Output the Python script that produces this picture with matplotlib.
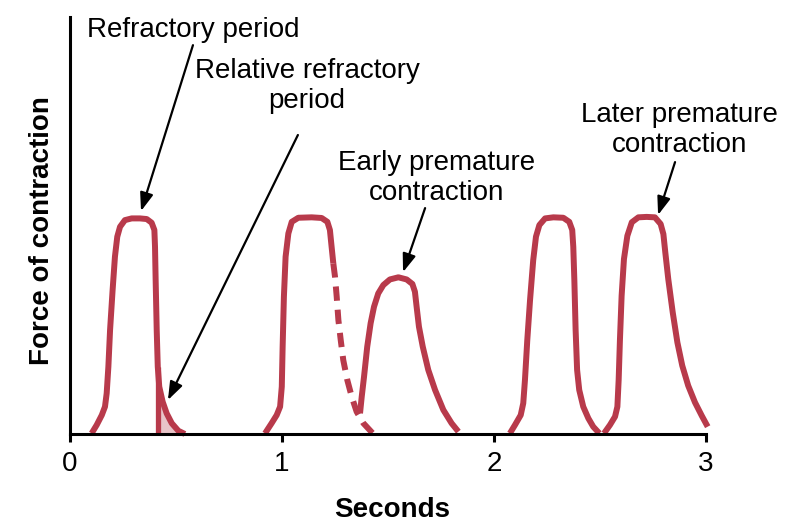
import matplotlib
matplotlib.use('Agg')
import matplotlib.pyplot as plt
import numpy as np

plt.rcParams['font.family'] = ['Liberation Sans', 'DejaVu Sans']

# ---- data (time in seconds, force in arbitrary units, normal peak ~100) ----
beat1_t = [0.102, 0.126, 0.150, 0.165, 0.173, 0.181, 0.189, 0.201, 0.212, 0.223, 0.236, 0.259, 0.291,
           0.330, 0.362, 0.385, 0.398, 0.401, 0.404, 0.409, 0.414, 0.421, 0.437, 0.456, 0.480, 0.511, 0.542]
beat1_f = [0.3, 4.2, 8.8, 12.7, 18.9, 31.3, 48.4, 67.0, 82.5, 91.8, 96.4, 99.5, 100.3,
           100.3, 100.0, 98.3, 94.9, 87.1, 71.6, 48.4, 31.3, 22.0, 15.0, 9.6, 5.0, 1.5, 0.0]

beat2_t = [0.920, 0.951, 0.975, 0.991, 0.999, 1.003, 1.009, 1.017, 1.030, 1.046, 1.077, 1.140,
           1.187, 1.214, 1.226, 1.234, 1.242]
beat2_f = [0.3, 5.0, 8.8, 12.7, 22.0, 40.6, 63.9, 82.5, 93.3, 98.7, 100.6, 100.8,
           100.5, 98.7, 94.9, 87.1, 79.4]

beat2_relax_t = [1.242, 1.250, 1.258, 1.266, 1.277, 1.289, 1.308, 1.329, 1.352, 1.384, 1.431]
beat2_relax_f = [79.4, 73.2, 63.9, 53.0, 43.7, 34.4, 25.1, 17.3, 10.4, 5.0, 0.0]

early_t = [1.368, 1.376, 1.387, 1.402, 1.418, 1.434, 1.454, 1.478, 1.509, 1.549, 1.588, 1.615,
           1.627, 1.635, 1.646, 1.664, 1.690, 1.722, 1.761, 1.800, 1.832]
early_f = [9.6, 17.3, 26.7, 40.6, 51.5, 59.2, 65.4, 69.3, 71.9, 72.9, 71.9, 69.8,
           66.2, 59.2, 49.9, 40.6, 29.8, 20.5, 11.2, 5.0, 1.1]

beat3_t = [2.075, 2.099, 2.126, 2.138, 2.146, 2.157, 2.170, 2.185, 2.198, 2.214, 2.241, 2.280,
           2.327, 2.355, 2.369, 2.374, 2.379, 2.385, 2.392, 2.402, 2.421, 2.445, 2.468, 2.497]
beat3_f = [0.3, 4.2, 8.8, 14.3, 25.1, 43.7, 62.3, 80.9, 91.8, 97.2, 100.3, 100.8,
           100.6, 98.7, 94.9, 87.1, 71.6, 48.4, 29.8, 20.5, 12.7, 7.3, 3.4, 0.3]

later_t = [2.519, 2.547, 2.571, 2.582, 2.588, 2.594, 2.602, 2.613, 2.629, 2.650, 2.681, 2.720,
           2.759, 2.786, 2.799, 2.808, 2.822, 2.843, 2.865, 2.888, 2.916, 2.948, 2.980, 3.008]
later_f = [0.3, 4.2, 8.1, 12.7, 25.1, 43.7, 64.3, 81.4, 92.2, 98.5, 100.8, 101.0,
           100.8, 97.7, 93.0, 84.5, 72.1, 56.6, 42.6, 31.8, 22.5, 14.7, 8.5, 3.4]

relative_refractory_start = 0.414

xticks = [0, 1, 2, 3]
xtick_labels = ['0', '1', '2', '3']

# ---- figure ----
RED = '#b83a4b'
PINK = '#e8c5c9'

fig = plt.figure(figsize=(8, 5.3), dpi=100)
ax = fig.add_axes([70 / 800, 96 / 530, 636 / 800, 417 / 530])
ax.set_xlim(0, 3)
ax.set_ylim(0, 194)

lw = 4.3
line_kw = dict(color=RED, lw=lw, solid_joinstyle='round', solid_capstyle='butt',
               clip_on=False, zorder=3)

# shaded relative refractory area
t1 = np.array(beat1_t)
f1 = np.array(beat1_f)
mask = t1 >= relative_refractory_start
ax.fill_between(t1[mask], 0, f1[mask], color=PINK, lw=0, zorder=2)
ax.vlines(relative_refractory_start, 0, f1[mask][0], color=RED, lw=3.8, zorder=3)

ax.plot(beat1_t, beat1_f, **line_kw)
ax.plot(beat2_t, beat2_f, **line_kw)
ax.plot(beat2_relax_t, beat2_relax_f, color=RED, lw=lw, dashes=[2.4, 1.5],
        dash_capstyle='butt', clip_on=False, zorder=3)
ax.plot(early_t, early_f, **line_kw)
ax.plot(beat3_t, beat3_f, **line_kw)
ax.plot(later_t, later_f, **line_kw)

# ---- annotations ----
fs = 20
arrow_kw = dict(arrowstyle='-|>,head_length=0.55,head_width=0.2', color='black',
                lw=1.6, mutation_scale=20, shrinkA=0, shrinkB=0)

ax.text(0.580, 187.9, 'Refractory period', ha='center', va='center', fontsize=fs)
ax.annotate('', xy=(0.335, 103.7), xytext=(0.580, 180.9), arrowprops=arrow_kw)

ax.text(1.118, 161.9, 'Relative refractory\nperiod', ha='center', va='center',
        fontsize=fs, linespacing=1.2)
ax.annotate('', xy=(0.462, 15.8), xytext=(1.075, 139.1), arrowprops=arrow_kw)

ax.text(1.731, 119.1, 'Early premature\ncontraction', ha='center', va='center',
        fontsize=fs, linespacing=1.2)
ax.annotate('', xy=(1.571, 75.3), xytext=(1.675, 105.1), arrowprops=arrow_kw)

ax.text(2.877, 141.4, 'Later premature\ncontraction', ha='center', va='center',
        fontsize=fs, linespacing=1.2)
ax.annotate('', xy=(2.774, 101.9), xytext=(2.854, 126.5), arrowprops=arrow_kw)

# ---- axes styling ----
for s in ['top', 'right']:
    ax.spines[s].set_visible(False)
for s in ['left', 'bottom']:
    ax.spines[s].set_linewidth(2.2)
    ax.spines[s].set_color('black')
ax.spines['left'].set_zorder(4)
ax.spines['bottom'].set_zorder(4)

ax.set_xticks(xticks)
ax.set_xticklabels(xtick_labels)
ax.set_yticks([])
ax.tick_params(axis='x', direction='out', length=6, width=2.2, labelsize=fs, pad=6)

ax.set_xlabel('Seconds', fontsize=fs, fontweight='bold')
ax.xaxis.set_label_coords(0.506, -0.152)
ax.set_ylabel('Force of contraction', fontsize=fs, fontweight='bold')
ax.yaxis.set_label_coords(-0.023, 0.489)

fig.savefig('out.png', dpi=100, facecolor='white')
